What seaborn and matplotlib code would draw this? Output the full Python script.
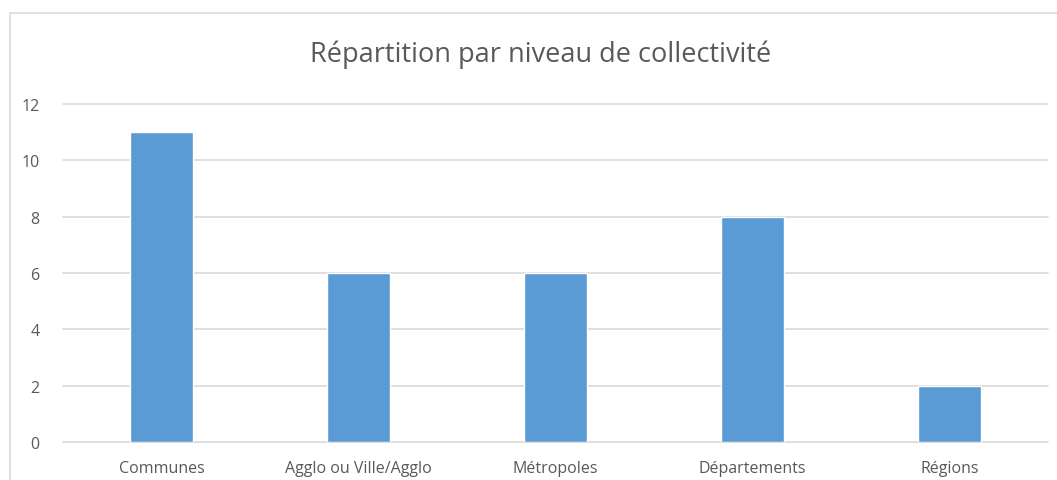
import matplotlib
matplotlib.use("Agg")
import matplotlib.pyplot as plt
import seaborn as sns
import pandas as pd
from matplotlib.patches import Rectangle

categories = ["Communes", "Agglo ou Ville/Agglo", "Métropoles", "Départements", "Régions"]
valeurs = [11, 6, 6, 8, 2]
titre = "Répartition par niveau de collectivité"

sns.set_style("white")
plt.rcParams['font.family'] = ['Open Sans', 'DejaVu Sans']

df = pd.DataFrame({"niveau": categories, "nombre": valeurs})

fig = plt.figure(figsize=(10.57, 4.81), dpi=100)
ax = fig.add_axes([63 / 1057, 1 - 443 / 481, (1048 - 63) / 1057, (443 - 105) / 481])

sns.barplot(data=df, x="niveau", y="nombre", color="#5B9BD5", saturation=1,
            width=0.32, ax=ax, zorder=3)

ax.set_ylim(0, 12)
ax.set_yticks(range(0, 13, 2))
ax.set_xlim(-0.5, len(categories) - 0.5)
ax.grid(axis='y', color="#D9D9D9", linewidth=1.2, zorder=0)
ax.set_axisbelow(True)
for ligne in ax.get_ygridlines():
    ligne.set_clip_on(False)
sns.despine(ax=ax, left=True, bottom=True, top=True, right=True)
ax.set_xlabel("")
ax.set_ylabel("")
ax.tick_params(axis='both', length=0, labelsize=11.5, labelcolor="#595959")
ax.tick_params(axis='y', pad=17)
ax.tick_params(axis='x', pad=13)

fig.text(541 / 1057, 1 - 55 / 481, titre, ha='center', va='center',
         fontsize=19.5, color="#595959")

# cadre du graphique
fig.patches.append(Rectangle((10 / 1057, -0.1), 1.2, 1 - 14 / 481 + 0.1,
                             transform=fig.transFigure, fill=False,
                             edgecolor="#D9D9D9", linewidth=1.2))

fig.savefig("out.png", dpi=100)
